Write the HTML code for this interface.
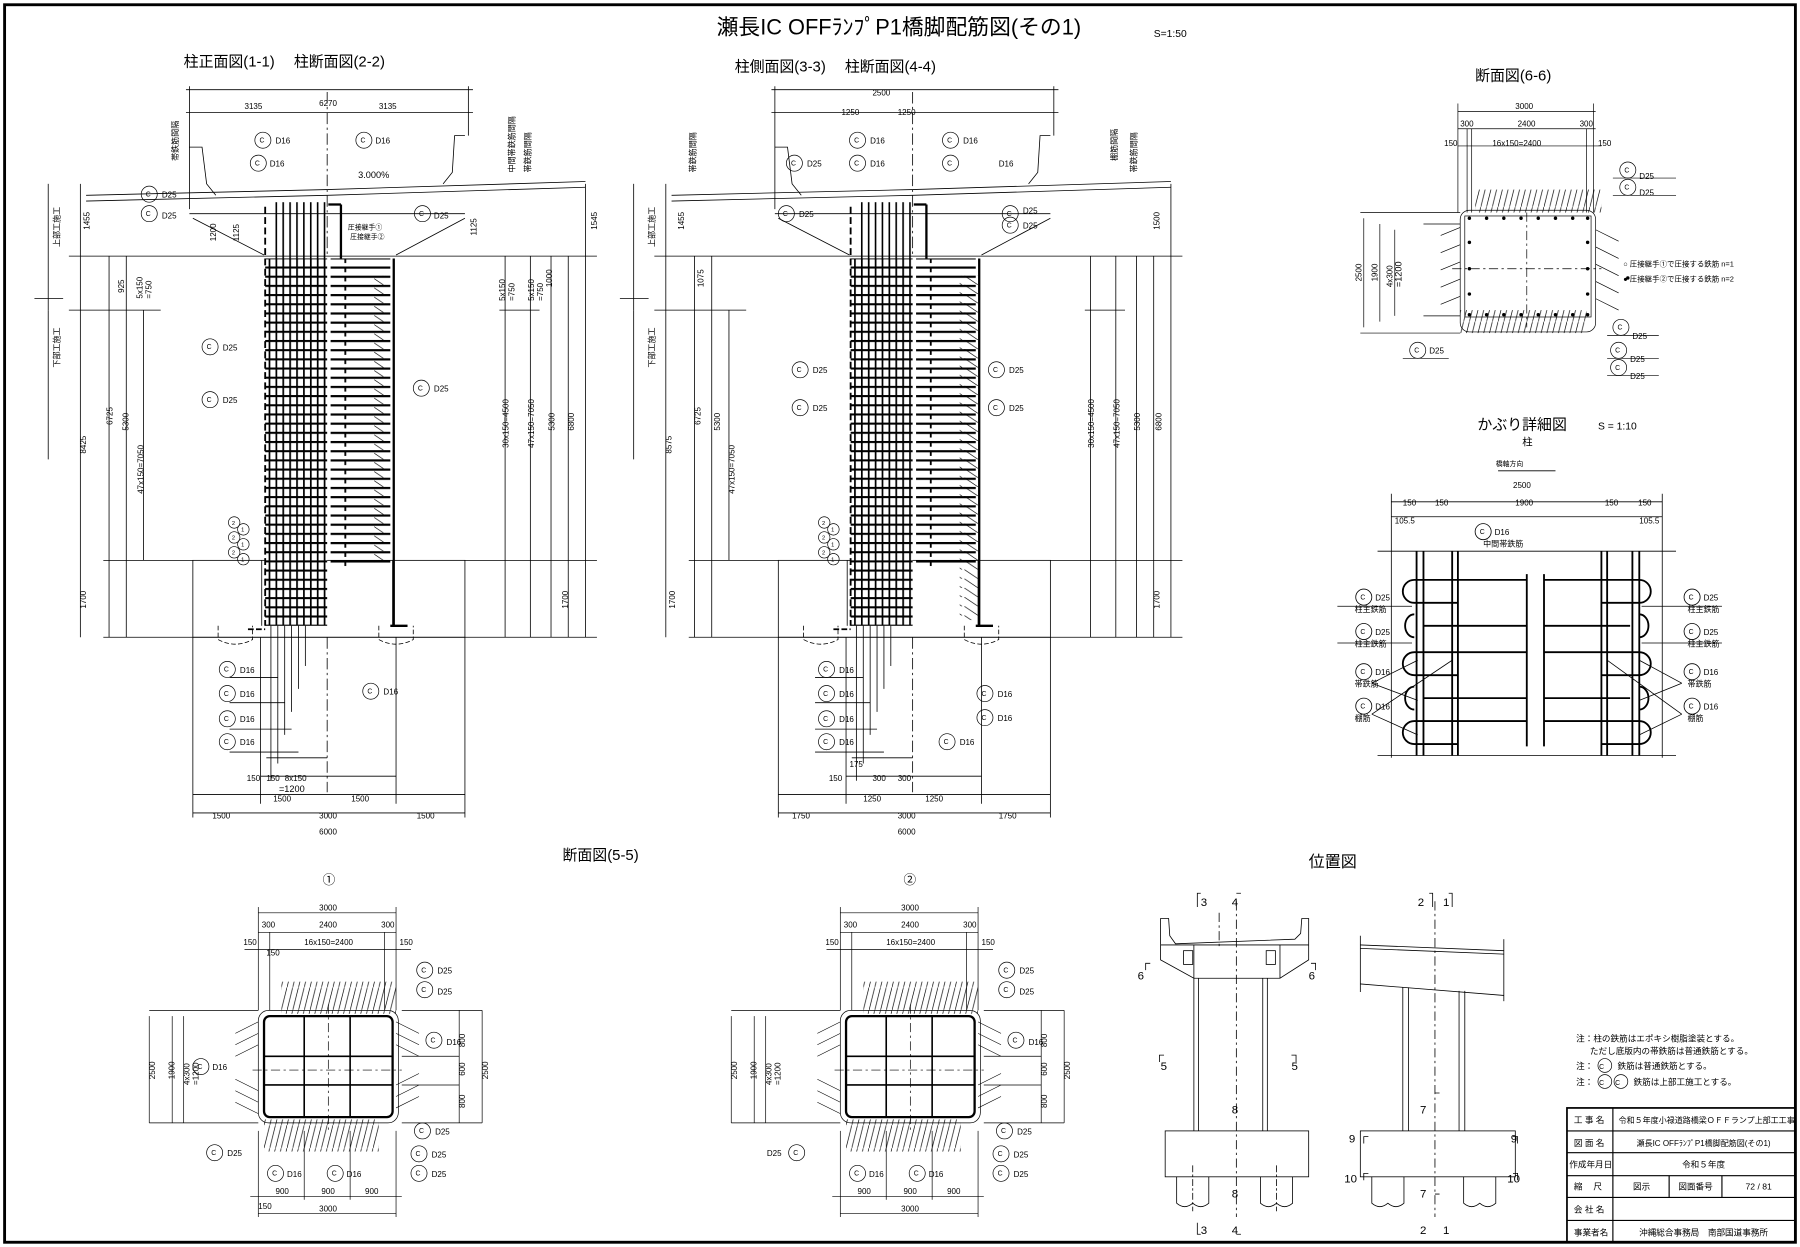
<!DOCTYPE html>
<html><head><meta charset="utf-8"><style>
html,body{margin:0;padding:0;background:#fff}
svg{display:block}
text{font-family:"Liberation Sans","Noto Sans CJK JP",sans-serif;fill:#000}
</style></head><body>
<svg width="1800" height="1247" viewBox="0 0 1568 1086" xmlns="http://www.w3.org/2000/svg">
<defs>
<pattern id="grid" patternUnits="userSpaceOnUse" width="6" height="8"><rect width="6" height="8" fill="#fff"/><rect x="0" y="0" width="6" height="1.8" fill="#000"/><rect x="0" y="0" width="1.5" height="8" fill="#000"/></pattern>
<pattern id="vb" patternUnits="userSpaceOnUse" width="6" height="8"><rect x="0" y="0" width="1.4" height="8" fill="#000"/></pattern>
<pattern id="hl" patternUnits="userSpaceOnUse" width="60" height="8"><rect x="0" y="0" width="60" height="1.9" fill="#000"/><rect x="0" y="0" width="1.6" height="5" fill="#000"/></pattern>
<pattern id="diag" patternUnits="userSpaceOnUse" width="5" height="20"><line x1="0" y1="20" x2="5" y2="0" stroke="#000" stroke-width="0.6"/></pattern>
<pattern id="tick" patternUnits="userSpaceOnUse" width="14" height="8"><line x1="0" y1="0" x2="12" y2="8" stroke="#000" stroke-width="0.6"/></pattern>
</defs>
<rect width="1568" height="1086" fill="#fff"/>
<rect x="4" y="4" width="1560" height="1078" fill="none" stroke="#000" stroke-width="2.5"/>

<text x="783" y="30" font-size="19" text-anchor="middle">瀬長IC OFFﾗﾝﾌﾟP1橋脚配筋図(その1)</text>
<text x="1005" y="32" font-size="9">S=1:50</text>
<text x="160" y="58" font-size="13">柱正面図(1-1)　 柱断面図(2-2)</text>
<text x="640" y="62" font-size="13">柱側面図(3-3)　 柱断面図(4-4)</text>
<text x="1285" y="70" font-size="13">断面図(6-6)</text>
<text x="1287" y="374" font-size="13">かぶり詳細図</text><text x="1392" y="374" font-size="9">S = 1:10</text>
<text x="1326" y="388" font-size="9">柱</text>
<text x="490" y="749" font-size="13">断面図(5-5)</text>
<text x="1140" y="755" font-size="14">位置図</text>

<g id="elevL" stroke="#000" fill="none" stroke-width="0.7">
 <line x1="75" y1="170" x2="285" y2="165"/><line x1="285" y1="165" x2="510" y2="158"/>
 <line x1="75" y1="175" x2="285" y2="170"/><line x1="285" y1="170" x2="510" y2="163"/>
 <polyline points="165,182 165,128 176,128 180,160 188,170"/>
 <polyline points="405,118 396,118 394,150 386,160"/>
 <line x1="165" y1="186" x2="405" y2="186"/>
 <line x1="168" y1="190" x2="230" y2="222"/><line x1="405" y1="190" x2="345" y2="222"/>
 <line x1="60" y1="223" x2="520" y2="223"/>
 <rect x="168" y="488" width="237" height="67"/>
 <line x1="90" y1="488" x2="168" y2="488"/><line x1="405" y1="488" x2="520" y2="488"/>
 <line x1="90" y1="555" x2="520" y2="555"/>
 <line x1="168" y1="555" x2="168" y2="712"/><line x1="405" y1="555" x2="405" y2="712"/>
 <line x1="227" y1="555" x2="227" y2="700"/><line x1="345" y1="555" x2="345" y2="700"/>
 <line x1="285" y1="555" x2="285" y2="690" stroke-dasharray="10 3 2 3"/>
 <line x1="285" y1="80" x2="285" y2="222" stroke-dasharray="10 3 2 3"/>
 <path d="M190 545 v12 q15 8 30 0 v-12 M330 545 v12 q15 8 30 0 v-12" stroke-dasharray="4 2"/>
 <line x1="168" y1="708" x2="405" y2="708"/><line x1="168" y1="692" x2="405" y2="692"/><line x1="227" y1="676" x2="345" y2="676"/>
 <line x1="232" y1="660" x2="285" y2="660"/>
 <line x1="70" y1="160" x2="70" y2="555"/><line x1="95" y1="223" x2="95" y2="555"/><line x1="110" y1="223" x2="110" y2="555"/><line x1="125" y1="270" x2="125" y2="488"/>
 <line x1="440" y1="223" x2="440" y2="555"/><line x1="462" y1="223" x2="462" y2="555"/><line x1="480" y1="223" x2="480" y2="555"/><line x1="495" y1="223" x2="495" y2="555"/><line x1="510" y1="160" x2="510" y2="555"/>
 <line x1="60" y1="270" x2="140" y2="270"/><line x1="435" y1="270" x2="470" y2="270"/>
 <line x1="162" y1="98" x2="412" y2="98"/><line x1="162" y1="78" x2="412" y2="78"/>
 <line x1="165" y1="75" x2="165" y2="128"/><line x1="408" y1="75" x2="408" y2="118"/>
 <line x1="228" y1="488" x2="228" y2="545"/><line x1="342" y1="488" x2="342" y2="545"/>
 <line x1="42" y1="160" x2="42" y2="270"/><line x1="42" y1="270" x2="42" y2="400"/>
 <line x1="30" y1="260" x2="55" y2="260"/>
 <rect x="231" y="225" width="54" height="320" fill="url(#grid)" stroke="none"/>
 <rect x="236" y="176" width="50" height="50" fill="url(#vb)" stroke="none"/>
 <rect x="288" y="225" width="52" height="268" fill="url(#hl)" stroke="none"/>
 <line x1="343" y1="225" x2="343" y2="545" stroke-width="2"/>
 <line x1="340" y1="545" x2="355" y2="545" stroke-width="2"/>
 <line x1="231" y1="180" x2="231" y2="545" stroke-width="1.6" stroke-dasharray="6 3"/>
 <line x1="216" y1="548" x2="231" y2="548" stroke-width="1.6" stroke-dasharray="5 2"/>
 <line x1="286" y1="178" x2="297" y2="178" stroke-width="2"/><line x1="297" y1="178" x2="297" y2="225" stroke-width="2"/>
 <line x1="236" y1="545" x2="236" y2="680"/><line x1="242" y1="545" x2="242" y2="665"/><line x1="248" y1="545" x2="248" y2="640"/><line x1="254" y1="545" x2="254" y2="620"/><line x1="260" y1="545" x2="260" y2="600"/><line x1="266" y1="545" x2="266" y2="580"/>
 <line x1="200" y1="590" x2="242" y2="590"/><line x1="200" y1="612" x2="248" y2="612"/><line x1="200" y1="635" x2="254" y2="635"/><line x1="200" y1="655" x2="260" y2="655"/>
</g>
<use href="#elevL" transform="translate(510,0)"/>
<g stroke="#000" fill="none" stroke-width="0.6">
 <rect x="836" y="240" width="16" height="300" fill="url(#tick)" stroke="none"/>
 <rect x="326" y="240" width="10" height="250" fill="url(#tick)" stroke="none"/>
</g>

<g font-size="7">
<text x="278" y="92">6270</text><text x="213" y="95">3135</text><text x="330" y="95">3135</text>
<text x="760" y="83">2500</text><text x="733" y="100">1250</text><text x="782" y="100">1250</text>
<text x="312" y="155" font-size="8">3.000%</text>
<text x="303" y="200" font-size="6">圧接継手①</text><text x="305" y="208" font-size="6">圧接継手②</text>
<text x="248" y="680" font-size="7">8x150</text><text x="243" y="690" font-size="8">=1200</text><text x="215" y="680">150</text><text x="232" y="680">150</text>
<text x="238" y="698">1500</text><text x="306" y="698">1500</text><text x="185" y="713">1500</text><text x="278" y="713">3000</text><text x="363" y="713">1500</text><text x="278" y="727">6000</text>
<text x="752" y="698">1250</text><text x="806" y="698">1250</text><text x="690" y="713">1750</text><text x="782" y="713">3000</text><text x="870" y="713">1750</text><text x="782" y="727">6000</text>
<text x="722" y="680">150</text><text x="740" y="668">175</text><text x="760" y="680">300</text><text x="782" y="680">300</text>
</g>
<g font-size="7">
 <text transform="translate(78,200) rotate(-90)">1455</text><text transform="translate(520,200) rotate(-90)">1545</text>
 <text transform="translate(188,210) rotate(-90)">1200</text><text transform="translate(208,210) rotate(-90)">1125</text>
 <text transform="translate(415,205) rotate(-90)">1125</text>
 <text transform="translate(108,255) rotate(-90)">925</text><text transform="translate(124,260) rotate(-90)">5x150</text><text transform="translate(132,260) rotate(-90)">=750</text>
 <text transform="translate(440,262) rotate(-90)">5x150</text><text transform="translate(448,262) rotate(-90)">=750</text><text transform="translate(465,262) rotate(-90)">5x150</text><text transform="translate(473,262) rotate(-90)">=750</text><text transform="translate(481,250) rotate(-90)">1000</text>
 <text transform="translate(613,250) rotate(-90)">1075</text><text transform="translate(596,200) rotate(-90)">1455</text><text transform="translate(1010,200) rotate(-90)">1500</text>
 <text transform="translate(75,395) rotate(-90)">8425</text><text transform="translate(98,370) rotate(-90)">6725</text><text transform="translate(112,375) rotate(-90)">5300</text><text transform="translate(125,430) rotate(-90)">47x150=7050</text>
 <text transform="translate(443,390) rotate(-90)">30x150=4500</text><text transform="translate(465,390) rotate(-90)">47x150=7050</text><text transform="translate(483,375) rotate(-90)">5300</text><text transform="translate(500,375) rotate(-90)">6800</text>
 <text transform="translate(585,395) rotate(-90)">8575</text><text transform="translate(610,370) rotate(-90)">6725</text><text transform="translate(627,375) rotate(-90)">5300</text><text transform="translate(640,430) rotate(-90)">47x150=7050</text>
 <text transform="translate(953,390) rotate(-90)">30x150=4500</text><text transform="translate(975,390) rotate(-90)">47x150=7050</text><text transform="translate(993,375) rotate(-90)">5300</text><text transform="translate(1012,375) rotate(-90)">6800</text>
 <text transform="translate(75,530) rotate(-90)">1700</text><text transform="translate(495,530) rotate(-90)">1700</text><text transform="translate(588,530) rotate(-90)">1700</text><text transform="translate(1010,530) rotate(-90)">1700</text>
 <text transform="translate(52,215) rotate(-90)">上部工施工</text><text transform="translate(52,320) rotate(-90)">下部工施工</text>
 <text transform="translate(570,215) rotate(-90)">上部工施工</text><text transform="translate(570,320) rotate(-90)">下部工施工</text>
 <text transform="translate(155,140) rotate(-90)">帯鉄筋間隔</text><text transform="translate(448,150) rotate(-90)">中間帯鉄筋間隔</text><text transform="translate(462,150) rotate(-90)">帯鉄筋間隔</text>
 <text transform="translate(606,150) rotate(-90)">帯鉄筋間隔</text><text transform="translate(973,140) rotate(-90)">棚筋間隔</text><text transform="translate(990,150) rotate(-90)">帯鉄筋間隔</text>
</g>

<g font-size="7" stroke-width="0.6">
<g fill="none" stroke="#000">
 <circle cx="229" cy="122" r="7"/><circle cx="225" cy="142" r="7"/><circle cx="317" cy="122" r="7"/><circle cx="130" cy="169" r="7"/><circle cx="130" cy="186" r="7"/><circle cx="368" cy="186" r="7"/>
 <circle cx="183" cy="302" r="7"/><circle cx="183" cy="348" r="7"/><circle cx="367" cy="338" r="7"/>
 <circle cx="198" cy="583" r="7"/><circle cx="198" cy="604" r="7"/><circle cx="198" cy="626" r="7"/><circle cx="198" cy="646" r="7"/><circle cx="323" cy="602" r="7"/>
 <circle cx="747" cy="122" r="7"/><circle cx="692" cy="142" r="7"/><circle cx="747" cy="142" r="7"/><circle cx="828" cy="122" r="7"/><circle cx="685" cy="186" r="7"/><circle cx="828" cy="142" r="7"/><circle cx="880" cy="186" r="7"/><circle cx="880" cy="196" r="7"/>
 <circle cx="697" cy="322" r="7"/><circle cx="697" cy="355" r="7"/><circle cx="868" cy="322" r="7"/><circle cx="868" cy="355" r="7"/>
 <circle cx="720" cy="583" r="7"/><circle cx="720" cy="604" r="7"/><circle cx="720" cy="626" r="7"/><circle cx="720" cy="646" r="7"/><circle cx="858" cy="604" r="7"/><circle cx="858" cy="625" r="7"/><circle cx="825" cy="646" r="7"/>
 <circle cx="204" cy="455" r="5"/><circle cx="204" cy="468" r="5"/><circle cx="204" cy="481" r="5"/><circle cx="212" cy="461" r="5"/><circle cx="212" cy="474" r="5"/><circle cx="212" cy="487" r="5"/>
 <circle cx="718" cy="455" r="5"/><circle cx="718" cy="468" r="5"/><circle cx="718" cy="481" r="5"/><circle cx="726" cy="461" r="5"/><circle cx="726" cy="474" r="5"/><circle cx="726" cy="487" r="5"/>
</g>
<g font-size="6">
 <text x="226" y="124">C</text><text x="222" y="144">C</text><text x="314" y="124">C</text><text x="127" y="171">C</text><text x="127" y="188">C</text><text x="365" y="188">C</text>
 <text x="180" y="304">C</text><text x="180" y="350">C</text><text x="364" y="340">C</text>
 <text x="195" y="585">C</text><text x="195" y="606">C</text><text x="195" y="628">C</text><text x="195" y="648">C</text><text x="320" y="604">C</text>
 <text x="744" y="124">C</text><text x="689" y="144">C</text><text x="744" y="144">C</text><text x="825" y="124">C</text><text x="682" y="188">C</text><text x="825" y="144">C</text><text x="877" y="188">C</text><text x="877" y="198">C</text>
 <text x="694" y="324">C</text><text x="694" y="357">C</text><text x="865" y="324">C</text><text x="865" y="357">C</text>
 <text x="717" y="585">C</text><text x="717" y="606">C</text><text x="717" y="628">C</text><text x="717" y="648">C</text><text x="855" y="606">C</text><text x="855" y="627">C</text><text x="822" y="648">C</text>
 <text x="202" y="457" font-size="5">2</text><text x="202" y="470" font-size="5">2</text><text x="202" y="483" font-size="5">2</text><text x="210" y="463" font-size="5">1</text><text x="210" y="476" font-size="5">1</text><text x="210" y="489" font-size="5">1</text>
 <text x="716" y="457" font-size="5">2</text><text x="716" y="470" font-size="5">2</text><text x="716" y="483" font-size="5">2</text><text x="724" y="463" font-size="5">1</text><text x="724" y="476" font-size="5">1</text><text x="724" y="489" font-size="5">1</text>
</g>
<text x="240" y="125">D16</text><text x="235" y="145">D16</text><text x="327" y="125">D16</text><text x="141" y="172">D25</text><text x="141" y="190">D25</text><text x="378" y="190">D25</text>
<text x="194" y="305">D25</text><text x="194" y="351">D25</text><text x="378" y="341">D25</text>
<text x="209" y="586">D16</text><text x="209" y="607">D16</text><text x="209" y="629">D16</text><text x="209" y="649">D16</text><text x="334" y="605">D16</text>
<text x="758" y="125">D16</text><text x="703" y="145">D25</text><text x="758" y="145">D16</text><text x="839" y="125">D16</text><text x="696" y="189">D25</text><text x="870" y="145">D16</text><text x="891" y="186">D25</text><text x="891" y="199">D25</text>
<text x="708" y="325">D25</text><text x="708" y="358">D25</text><text x="879" y="325">D25</text><text x="879" y="358">D25</text>
<text x="731" y="586">D16</text><text x="731" y="607">D16</text><text x="731" y="629">D16</text><text x="731" y="649">D16</text><text x="869" y="607">D16</text><text x="869" y="628">D16</text><text x="836" y="649">D16</text>
</g>

<g stroke="#000" fill="none" stroke-width="0.6" font-size="7">
 <line x1="1270" y1="97" x2="1390" y2="97"/><line x1="1270" y1="112" x2="1390" y2="112"/><line x1="1270" y1="127" x2="1395" y2="127"/>
 <line x1="1270" y1="90" x2="1270" y2="185"/><line x1="1278" y1="112" x2="1278" y2="185"/><line x1="1282" y1="112" x2="1282" y2="185"/><line x1="1382" y1="112" x2="1382" y2="185"/><line x1="1388" y1="90" x2="1388" y2="185"/>
 <rect x="1285" y="165" width="110" height="20" fill="url(#diag)" stroke="none"/>
 <rect x="1272" y="270" width="110" height="20" fill="url(#diag)" stroke="none"/>
 <rect x="1272" y="183" width="118" height="106" rx="8"/>
 <rect x="1276" y="188" width="110" height="88"/>
 <line x1="1265" y1="234" x2="1395" y2="234" stroke-dasharray="8 3 2 3"/><line x1="1330" y1="185" x2="1330" y2="285" stroke-dasharray="8 3 2 3"/>
 <line x1="1188" y1="190" x2="1188" y2="285"/><line x1="1202" y1="195" x2="1202" y2="280"/><line x1="1215" y1="200" x2="1215" y2="275"/>
 <line x1="1185" y1="185" x2="1272" y2="185"/><line x1="1185" y1="290" x2="1272" y2="290"/>
 <line x1="1240" y1="195" x2="1272" y2="195"/><line x1="1240" y1="275" x2="1272" y2="275"/>
 <line x1="1390" y1="200" x2="1410" y2="210"/><line x1="1390" y1="215" x2="1410" y2="225"/><line x1="1390" y1="230" x2="1410" y2="240"/><line x1="1390" y1="245" x2="1410" y2="255"/><line x1="1390" y1="260" x2="1410" y2="270"/>
 <line x1="1255" y1="205" x2="1272" y2="198"/><line x1="1255" y1="220" x2="1272" y2="213"/><line x1="1255" y1="235" x2="1272" y2="228"/><line x1="1255" y1="250" x2="1272" y2="243"/><line x1="1255" y1="265" x2="1272" y2="258"/>
 <circle cx="1418" cy="148" r="7"/><circle cx="1418" cy="163" r="7"/><circle cx="1412" cy="285" r="7"/><circle cx="1410" cy="305" r="7"/><circle cx="1410" cy="320" r="7"/><circle cx="1235" cy="305" r="7"/>
 <line x1="1405" y1="155" x2="1460" y2="155"/><line x1="1405" y1="170" x2="1460" y2="170"/><line x1="1400" y1="292" x2="1445" y2="292"/><line x1="1400" y1="312" x2="1445" y2="312"/><line x1="1400" y1="327" x2="1445" y2="327"/><line x1="1222" y1="312" x2="1262" y2="312"/>
</g>
<g fill="#000"><circle cx="1280" cy="190" r="1.5"/><circle cx="1295" cy="190" r="1.5"/><circle cx="1310" cy="190" r="1.5"/><circle cx="1325" cy="190" r="1.5"/><circle cx="1340" cy="190" r="1.5"/><circle cx="1355" cy="190" r="1.5"/><circle cx="1370" cy="190" r="1.5"/><circle cx="1383" cy="190" r="1.5"/>
<circle cx="1280" cy="274" r="1.5"/><circle cx="1295" cy="274" r="1.5"/><circle cx="1310" cy="274" r="1.5"/><circle cx="1325" cy="274" r="1.5"/><circle cx="1340" cy="274" r="1.5"/><circle cx="1355" cy="274" r="1.5"/><circle cx="1370" cy="274" r="1.5"/><circle cx="1383" cy="274" r="1.5"/>
<circle cx="1280" cy="211" r="1.5"/><circle cx="1280" cy="234" r="1.5"/><circle cx="1280" cy="256" r="1.5"/><circle cx="1383" cy="211" r="1.5"/><circle cx="1383" cy="234" r="1.5"/><circle cx="1383" cy="256" r="1.5"/>
<circle cx="1418" cy="242" r="1.5"/></g>
<g font-size="7">
 <text x="1320" y="95">3000</text><text x="1272" y="110">300</text><text x="1322" y="110">2400</text><text x="1376" y="110">300</text><text x="1300" y="127">16x150=2400</text><text x="1258" y="127">150</text><text x="1392" y="127">150</text>
 <text x="1415" y="150" font-size="6">C</text><text x="1415" y="165" font-size="6">C</text><text x="1409" y="287" font-size="6">C</text><text x="1407" y="307" font-size="6">C</text><text x="1407" y="322" font-size="6">C</text><text x="1232" y="307" font-size="6">C</text>
 <text x="1428" y="156">D25</text><text x="1428" y="170">D25</text><text x="1422" y="295">D25</text><text x="1420" y="315">D25</text><text x="1420" y="330">D25</text><text x="1245" y="308">D25</text>
 <text x="1414" y="232" font-size="6.5">○ 圧接継手①で圧接する鉄筋 n=1</text><text x="1414" y="245" font-size="6.5">● 圧接継手②で圧接する鉄筋 n=2</text>
 <text transform="translate(1186,245) rotate(-90)">2500</text><text transform="translate(1200,245) rotate(-90)">1900</text><text transform="translate(1213,250) rotate(-90)">4x300</text><text transform="translate(1221,250) rotate(-90)" font-size="8">=1200</text>
</g>

<g stroke="#000" fill="none" stroke-width="0.7">
 <line x1="1305" y1="410" x2="1355" y2="410"/>
 <line x1="1212" y1="437" x2="1448" y2="437"/><line x1="1212" y1="450" x2="1448" y2="450"/><line x1="1212" y1="430" x2="1212" y2="660"/><line x1="1448" y1="430" x2="1448" y2="660"/>
 <line x1="1200" y1="480" x2="1460" y2="480"/><line x1="1200" y1="658" x2="1460" y2="658"/>
 <g stroke-width="1.6">
  <line x1="1234" y1="480" x2="1234" y2="658"/><line x1="1240" y1="480" x2="1240" y2="658"/><line x1="1265" y1="480" x2="1265" y2="658"/><line x1="1270" y1="480" x2="1270" y2="658"/>
  <line x1="1395" y1="480" x2="1395" y2="658"/><line x1="1400" y1="480" x2="1400" y2="658"/><line x1="1422" y1="480" x2="1422" y2="658"/><line x1="1428" y1="480" x2="1428" y2="658"/>
  <path d="M1330 505 H1232 a10 10 0 0 0 0 20 H1270 M1345 505 H1428 a10 10 0 0 1 0 20 H1395"/>
  <path d="M1330 568 H1232 a10 10 0 0 0 0 20 H1270 M1345 568 H1428 a10 10 0 0 1 0 20 H1395"/>
  <path d="M1330 628 H1232 a10 10 0 0 0 0 20 H1270 M1345 628 H1428 a10 10 0 0 1 0 20 H1395"/>
  <path d="M1232 535 a8 10 0 0 0 0 20 M1232 598 a8 10 0 0 0 0 20 M1428 535 a8 10 0 0 1 0 20 M1428 598 a8 10 0 0 1 0 20"/>
  <line x1="1240" y1="545" x2="1330" y2="545"/><line x1="1345" y1="545" x2="1420" y2="545"/>
  <line x1="1240" y1="608" x2="1330" y2="608"/><line x1="1345" y1="608" x2="1420" y2="608"/>
  <line x1="1330" y1="500" x2="1330" y2="650"/><line x1="1345" y1="500" x2="1345" y2="650"/>
 </g>
 <line x1="1165" y1="528" x2="1230" y2="528"/><line x1="1165" y1="560" x2="1230" y2="560"/><line x1="1430" y1="528" x2="1500" y2="528"/><line x1="1430" y1="560" x2="1500" y2="560"/>
 <line x1="1195" y1="595" x2="1235" y2="575"/><line x1="1195" y1="595" x2="1235" y2="610"/><line x1="1195" y1="622" x2="1265" y2="575"/><line x1="1195" y1="622" x2="1235" y2="640"/>
 <line x1="1465" y1="595" x2="1428" y2="575"/><line x1="1465" y1="595" x2="1428" y2="610"/><line x1="1465" y1="622" x2="1400" y2="575"/><line x1="1465" y1="622" x2="1428" y2="640"/>
 <circle cx="1188" cy="520" r="7"/><circle cx="1188" cy="550" r="7"/><circle cx="1188" cy="585" r="7"/><circle cx="1188" cy="615" r="7"/><circle cx="1474" cy="520" r="7"/><circle cx="1474" cy="550" r="7"/><circle cx="1474" cy="585" r="7"/><circle cx="1474" cy="615" r="7"/><circle cx="1292" cy="463" r="7"/>
</g>
<g font-size="7">
 <g font-size="6"><text x="1185" y="522">C</text><text x="1185" y="552">C</text><text x="1185" y="587">C</text><text x="1185" y="617">C</text><text x="1471" y="522">C</text><text x="1471" y="552">C</text><text x="1471" y="587">C</text><text x="1471" y="617">C</text><text x="1289" y="465">C</text></g>
 <text x="1303" y="406" font-size="6">橋軸方向</text><text x="1318" y="425">2500</text><text x="1222" y="440">150</text><text x="1250" y="440">150</text><text x="1320" y="440">1900</text><text x="1398" y="440">150</text><text x="1427" y="440">150</text>
 <text x="1215" y="456">105.5</text><text x="1428" y="456">105.5</text><text x="1302" y="466">D16</text><text x="1292" y="476">中間帯鉄筋</text>
 <text x="1198" y="523">D25</text><text x="1180" y="533">柱主鉄筋</text><text x="1198" y="553">D25</text><text x="1180" y="563">柱主鉄筋</text><text x="1198" y="588">D16</text><text x="1180" y="598">帯鉄筋</text><text x="1198" y="618">D16</text><text x="1180" y="628">棚筋</text>
 <text x="1484" y="523">D25</text><text x="1470" y="533">柱主鉄筋</text><text x="1484" y="553">D25</text><text x="1470" y="563">柱主鉄筋</text><text x="1484" y="588">D16</text><text x="1470" y="598">帯鉄筋</text><text x="1484" y="618">D16</text><text x="1470" y="628">棚筋</text>
</g>

<text x="281" y="770" font-size="11">①</text><text x="787" y="770" font-size="11">②</text>
<g id="sec5" stroke="#000" fill="none" stroke-width="0.6">
 <line x1="225" y1="795" x2="345" y2="795"/><line x1="225" y1="812" x2="345" y2="812"/><line x1="213" y1="827" x2="358" y2="827"/>
 <line x1="225" y1="790" x2="225" y2="880"/><line x1="235" y1="812" x2="235" y2="880"/><line x1="335" y1="812" x2="335" y2="880"/><line x1="345" y1="790" x2="345" y2="880"/>
 <rect x="245" y="855" width="100" height="28" fill="url(#diag)" stroke="none"/>
 <rect x="230" y="975" width="100" height="28" fill="url(#diag)" stroke="none"/>
 <rect x="225" y="880" width="122" height="98" rx="9"/>
 <rect x="230" y="885" width="112" height="88" rx="5" stroke-width="2"/>
 <line x1="230" y1="920" x2="342" y2="920" stroke-width="1.4"/><line x1="230" y1="945" x2="342" y2="945" stroke-width="1.4"/>
 <line x1="265" y1="885" x2="265" y2="973" stroke-width="1.4"/><line x1="305" y1="885" x2="305" y2="973" stroke-width="1.4"/>
 <line x1="220" y1="932" x2="350" y2="932" stroke-dasharray="8 3 2 3"/><line x1="286" y1="875" x2="286" y2="985" stroke-dasharray="8 3 2 3"/>
 <line x1="130" y1="880" x2="225" y2="880"/><line x1="130" y1="978" x2="225" y2="978"/><line x1="130" y1="885" x2="130" y2="978"/><line x1="150" y1="885" x2="150" y2="978"/><line x1="160" y1="885" x2="160" y2="978"/>
 <line x1="350" y1="880" x2="420" y2="880"/><line x1="350" y1="978" x2="420" y2="978"/><line x1="420" y1="880" x2="420" y2="978"/><line x1="400" y1="880" x2="400" y2="978"/>
 <line x1="350" y1="920" x2="400" y2="920"/><line x1="350" y1="945" x2="400" y2="945"/>
 <line x1="225" y1="985" x2="225" y2="1060"/><line x1="345" y1="985" x2="345" y2="1060"/><line x1="265" y1="985" x2="265" y2="1045"/><line x1="305" y1="985" x2="305" y2="1045"/>
 <line x1="218" y1="1042" x2="350" y2="1042"/><line x1="225" y1="1057" x2="345" y2="1057"/>
 <g stroke-width="0.5"><line x1="345" y1="890" x2="365" y2="900"/><line x1="345" y1="900" x2="365" y2="910"/><line x1="345" y1="910" x2="365" y2="920"/><line x1="345" y1="945" x2="365" y2="935"/><line x1="345" y1="955" x2="365" y2="945"/><line x1="345" y1="965" x2="365" y2="955"/>
 <line x1="225" y1="890" x2="205" y2="900"/><line x1="225" y1="900" x2="205" y2="910"/><line x1="225" y1="910" x2="205" y2="920"/><line x1="225" y1="950" x2="205" y2="940"/><line x1="225" y1="960" x2="205" y2="950"/><line x1="225" y1="970" x2="205" y2="960"/></g>
 <circle cx="370" cy="845" r="7"/><circle cx="370" cy="862" r="7"/><circle cx="378" cy="906" r="7"/><circle cx="368" cy="985" r="7"/><circle cx="365" cy="1005" r="7"/><circle cx="365" cy="1022" r="7"/><circle cx="187" cy="1004" r="7"/><circle cx="240" cy="1022" r="7"/><circle cx="292" cy="1022" r="7"/>
</g>
<use href="#sec5" transform="translate(507,0)"/>
<g font-size="6">
 <text x="367" y="847">C</text><text x="367" y="864">C</text><text x="375" y="908">C</text><text x="365" y="987">C</text><text x="362" y="1007">C</text><text x="362" y="1024">C</text><text x="184" y="1006">C</text><text x="237" y="1024">C</text><text x="289" y="1024">C</text>
 <text x="874" y="847">C</text><text x="874" y="864">C</text><text x="882" y="908">C</text><text x="872" y="987">C</text><text x="869" y="1007">C</text><text x="869" y="1024">C</text><text x="691" y="1006">C</text><text x="744" y="1024">C</text><text x="796" y="1024">C</text>
 <text x="172" y="931">C</text>
</g>
<g font-size="7">
 <text x="185" y="932">D16</text><circle cx="175" cy="929" r="7" fill="none" stroke="#000" stroke-width="0.6"/>
 <text x="668" y="1007">D25</text>
</g>
<g font-size="7">
 <text x="278" y="793">3000</text><text x="228" y="808">300</text><text x="278" y="808">2400</text><text x="332" y="808">300</text><text x="265" y="823">16x150=2400</text><text x="212" y="823">150</text><text x="348" y="823">150</text><text x="232" y="832">150</text>
 <text x="381" y="848">D25</text><text x="381" y="866">D25</text><text x="389" y="910">D16</text><text x="379" y="988">D25</text><text x="376" y="1008">D25</text><text x="376" y="1025">D25</text><text x="198" y="1007">D25</text><text x="250" y="1025">D16</text><text x="302" y="1025">D16</text>
 <text x="240" y="1040">900</text><text x="280" y="1040">900</text><text x="318" y="1040">900</text><text x="278" y="1055">3000</text><text x="225" y="1053">150</text>
 <text transform="translate(135,940) rotate(-90)">2500</text><text transform="translate(152,940) rotate(-90)">1900</text><text transform="translate(165,945) rotate(-90)">4x300</text><text transform="translate(173,945) rotate(-90)">=1200</text>
 <text transform="translate(405,912) rotate(-90)">800</text><text transform="translate(405,937) rotate(-90)">600</text><text transform="translate(405,965) rotate(-90)">800</text><text transform="translate(425,940) rotate(-90)">2500</text>
</g>
<g font-size="7">
 <text x="785" y="793">3000</text><text x="735" y="808">300</text><text x="785" y="808">2400</text><text x="839" y="808">300</text><text x="772" y="823">16x150=2400</text><text x="719" y="823">150</text><text x="855" y="823">150</text>
 <text x="888" y="848">D25</text><text x="888" y="866">D25</text><text x="896" y="910">D16</text><text x="886" y="988">D25</text><text x="883" y="1008">D25</text><text x="883" y="1025">D25</text><text x="757" y="1025">D16</text><text x="809" y="1025">D16</text>
 <text x="747" y="1040">900</text><text x="787" y="1040">900</text><text x="825" y="1040">900</text><text x="785" y="1055">3000</text>
 <text transform="translate(642,940) rotate(-90)">2500</text><text transform="translate(659,940) rotate(-90)">1900</text><text transform="translate(672,945) rotate(-90)">4x300</text><text transform="translate(680,945) rotate(-90)">=1200</text>
 <text transform="translate(912,912) rotate(-90)">800</text><text transform="translate(912,937) rotate(-90)">600</text><text transform="translate(912,965) rotate(-90)">800</text><text transform="translate(932,940) rotate(-90)">2500</text>
</g>

<g stroke="#000" fill="none" stroke-width="0.7">
 <polyline points="1011,823 1011,800 1018,800 1019,815 1024,822 1128,818 1133,813 1134,800 1140,800 1140,823"/>
 <line x1="1011" y1="823" x2="1140" y2="823"/>
 <polyline points="1011,823 1011,836 1040,852 1115,852 1140,836 1140,823"/>
 <line x1="1040" y1="823" x2="1040" y2="852"/><line x1="1115" y1="823" x2="1115" y2="852"/>
 <rect x="1031" y="828" width="8" height="12"/><rect x="1103" y="828" width="8" height="12"/>
 <line x1="1040" y1="852" x2="1040" y2="985"/><line x1="1044" y1="852" x2="1044" y2="985"/><line x1="1100" y1="852" x2="1100" y2="985"/><line x1="1104" y1="852" x2="1104" y2="985"/>
 <rect x="1015" y="985" width="125" height="40"/>
 <path d="M1025 1025 v23 q7 6 14 0 q7 6 14 0 v-23 M1098 1025 v23 q7 6 14 0 q7 6 14 0 v-23"/>
 <line x1="1077" y1="785" x2="1077" y2="1060" stroke-dasharray="8 3 2 3"/><line x1="1062" y1="795" x2="1062" y2="826" stroke-dasharray="8 3 2 3"/>
 <line x1="1039" y1="1015" x2="1039" y2="1055" stroke-dasharray="6 2 2 2"/><line x1="1112" y1="1015" x2="1112" y2="1055" stroke-dasharray="6 2 2 2"/>
 <polyline points="1185,823 1310,828"/><polyline points="1185,826 1310,831"/><line x1="1185" y1="857" x2="1310" y2="867"/>
 <line x1="1185" y1="815" x2="1185" y2="864"/><line x1="1310" y1="818" x2="1310" y2="872"/>
 <line x1="1222" y1="860" x2="1222" y2="985"/><line x1="1227" y1="860" x2="1227" y2="985"/><line x1="1271" y1="863" x2="1271" y2="985"/><line x1="1276" y1="863" x2="1276" y2="985"/>
 <rect x="1185" y="985" width="135" height="40"/>
 <path d="M1195 1025 v23 q7 6 14 0 q7 6 14 0 v-23 M1275 1025 v23 q7 6 14 0 q7 6 14 0 v-23"/>
 <line x1="1250" y1="785" x2="1250" y2="1060" stroke-dasharray="8 3 2 3"/>
 <path d="M1046 778 h-3 v12 M1077 778 h4 M1077 1075 h4 M1046 1075 h-3 v-10 M1245 778 h3 v12 M1262 778 h3 v12 M998 845 v-6 h4 M1142 839 h4 v6 M1010 925 v-6 h4 M1125 919 h4 v6 M1250 952 h4 M1250 1040 h4 M1188 996 v-6 h4 M1318 990 h4 v6 M1188 1028 v-6 h4 M1318 1022 h4 v6"/>
</g>
<g font-size="10">
 <text x="1046" y="789">3</text><text x="1073" y="789">4</text><text x="1235" y="789">2</text><text x="1257" y="789">1</text>
 <text x="991" y="853">6</text><text x="1140" y="853">6</text><text x="1011" y="932">5</text><text x="1125" y="932">5</text>
 <text x="1073" y="970">8</text><text x="1073" y="1043">8</text><text x="1046" y="1075">3</text><text x="1073" y="1075">4</text>
 <text x="1237" y="970">7</text><text x="1237" y="1043">7</text><text x="1237" y="1075">2</text><text x="1257" y="1075">1</text>
 <text x="1175" y="995">9</text><text x="1316" y="995">9</text><text x="1171" y="1030">10</text><text x="1313" y="1030">10</text>
</g>

<g font-size="7.5">
 <text x="1373" y="907">注：柱の鉄筋はエポキシ樹脂塗装とする。</text>
 <text x="1385" y="918">ただし底版内の帯鉄筋は普通鉄筋とする。</text>
 <text x="1373" y="931">注：</text><circle cx="1398" cy="928" r="6" fill="none" stroke="#000" stroke-width="0.6"/><text x="1393" y="931" font-size="6">C</text><text x="1409" y="931">鉄筋は普通鉄筋とする。</text>
 <text x="1373" y="945">注：</text><circle cx="1398" cy="942" r="6" fill="none" stroke="#000" stroke-width="0.6"/><circle cx="1412" cy="942" r="6" fill="none" stroke="#000" stroke-width="0.6"/><text x="1393" y="945" font-size="6">C</text><text x="1407" y="945" font-size="6">C</text><text x="1423" y="945">鉄筋は上部工施工とする。</text>
</g>

<g stroke="#000" fill="none" stroke-width="1">
 <rect x="1365" y="965" width="199" height="117" stroke-width="1.5"/>
 <line x1="1365" y1="985" x2="1564" y2="985"/><line x1="1365" y1="1004" x2="1564" y2="1004"/><line x1="1365" y1="1024" x2="1564" y2="1024"/><line x1="1365" y1="1043" x2="1564" y2="1043"/><line x1="1365" y1="1063" x2="1564" y2="1063"/>
 <line x1="1405" y1="965" x2="1405" y2="1082"/><line x1="1454" y1="1024" x2="1454" y2="1043"/><line x1="1500" y1="1024" x2="1500" y2="1043"/>
</g>
<g font-size="7.5">
 <text x="1371" y="978">工 事 名</text><text x="1410" y="978" font-size="7">令和５年度小禄道路橋梁ＯＦＦランプ上部工工事</text>
 <text x="1371" y="998">図 面 名</text><text x="1484" y="998" text-anchor="middle" font-size="7">瀬長IC OFFﾗﾝﾌﾟP1橋脚配筋図(その1)</text>
 <text x="1367" y="1017">作成年月日</text><text x="1484" y="1017" text-anchor="middle">令和５年度</text>
 <text x="1371" y="1036">縮　 尺</text><text x="1430" y="1036" text-anchor="middle">図示</text><text x="1477" y="1036" text-anchor="middle">図面番号</text><text x="1532" y="1036" text-anchor="middle">72 / 81</text>
 <text x="1371" y="1056">会 社 名</text>
 <text x="1371" y="1076">事業者名</text><text x="1484" y="1076" text-anchor="middle">沖縄総合事務局　南部国道事務所</text>
</g>
</svg>
</body></html>
